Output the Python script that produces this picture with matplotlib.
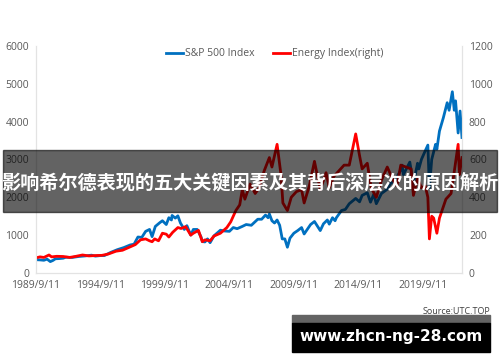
import matplotlib.pyplot as plt
from matplotlib.patches import Rectangle

# data (decimal years)
sp_year = [1989.7, 1990.0, 1990.3, 1990.55, 1990.8, 1991.0, 1991.2, 1991.5, 1991.8, 1992.0,
           1992.5, 1993.0, 1993.5, 1994.0, 1994.3, 1994.7, 1995.0, 1995.5, 1996.0, 1996.5,
           1997.0, 1997.3, 1997.6, 1997.9, 1998.2, 1998.5, 1998.7, 1998.95, 1999.3, 1999.5,
           1999.8, 2000.0, 2000.2, 2000.25, 2000.5, 2000.7, 2000.9, 2001.2, 2001.4, 2001.7,
           2001.9, 2002.2, 2002.5, 2002.6, 2002.8, 2003.0, 2003.2, 2003.5, 2004.0, 2004.3,
           2004.7, 2005.0, 2005.3, 2005.7, 2006.0, 2006.4, 2006.9, 2007.2, 2007.5, 2007.7,
           2007.8, 2008.0, 2008.2, 2008.4, 2008.6, 2008.8, 2009.0, 2009.2, 2009.4, 2009.7,
           2010.0, 2010.3, 2010.5, 2010.8, 2011.0, 2011.3, 2011.6, 2011.75, 2012.0, 2012.3,
           2012.45, 2012.7, 2012.9, 2013.0, 2013.4, 2013.7, 2014.0, 2014.5, 2014.8, 2015.0,
           2015.4, 2015.65, 2015.9, 2016.1, 2016.5, 2016.9, 2017.2, 2017.6, 2017.95, 2018.1,
           2018.2, 2018.7, 2018.98, 2019.3, 2019.4, 2019.6, 2019.9, 2020.1, 2020.22, 2020.4,
           2020.7, 2020.8, 2021.0, 2021.3, 2021.6, 2021.75, 2022.0, 2022.15, 2022.25, 2022.45,
           2022.6, 2022.75]
sp_val = [350, 345, 335, 365, 300, 330, 375, 380, 390, 415,
          410, 435, 450, 470, 445, 460, 460, 545, 615, 670,
          740, 760, 950, 940, 1100, 1150, 960, 1230, 1330, 1380,
          1280, 1460, 1400, 1520, 1450, 1510, 1320, 1150, 1250, 1000,
          1150, 1150, 950, 830, 820, 900, 800, 980, 1130, 1110,
          1100, 1200, 1170, 1230, 1280, 1260, 1420, 1420, 1530, 1460,
          1560, 1380, 1320, 1400, 1260, 900, 900, 680, 920, 1050,
          1120, 1200, 1030, 1180, 1280, 1360, 1200, 1120, 1300, 1400,
          1290, 1460, 1380, 1460, 1650, 1680, 1830, 1970, 1880, 2050,
          2120, 1870, 2080, 1830, 2100, 2200, 2360, 2470, 2690, 2850,
          2600, 2930, 2350, 2900, 2750, 3000, 3230, 3380, 2240, 3000,
          3400, 3270, 3750, 4100, 4500, 4300, 4790, 4300, 4550, 3700,
          4280, 3580]

en_year = [1989.7, 1990.0, 1990.3, 1990.7, 1990.9, 1991.3, 1991.8, 1992.3, 1992.8, 1993.3,
           1993.8, 1994.3, 1994.8, 1995.3, 1995.9, 1996.4, 1996.9, 1997.4, 1997.8, 1998.2,
           1998.5, 1998.7, 1998.9, 1999.2, 1999.5, 1999.8, 2000.0, 2000.3, 2000.7, 2000.95,
           2001.3, 2001.7, 2001.9, 2002.3, 2002.6, 2002.8, 2003.2, 2003.5, 2004.0, 2004.5,
           2004.8, 2005.2, 2005.5, 2005.7, 2005.9, 2006.3, 2006.7, 2007.0, 2007.4, 2007.8,
           2008.0, 2008.4, 2008.7, 2008.85, 2009.2, 2009.5, 2009.9, 2010.3, 2010.5, 2010.9,
           2011.3, 2011.75, 2012.2, 2012.45, 2012.8, 2013.2, 2013.6, 2014.0, 2014.5, 2014.8,
           2015.0, 2015.4, 2015.7, 2016.1, 2016.5, 2016.95, 2017.4, 2017.7, 2018.0, 2018.4,
           2018.8, 2018.98, 2019.3, 2019.6, 2019.9, 2020.1, 2020.22, 2020.4, 2020.55, 2020.8,
           2021.0, 2021.5, 2021.9, 2022.2, 2022.45, 2022.55, 2022.75]
en_val = [80, 85, 82, 95, 85, 88, 87, 82, 88, 95,
          90, 92, 93, 100, 115, 120, 135, 150, 175, 180,
          170, 165, 180, 170, 210, 205, 190, 215, 240, 235,
          245, 200, 210, 225, 165, 175, 170, 195, 210, 240,
          270, 330, 360, 440, 390, 470, 420, 450, 540, 610,
          560, 680, 520, 370, 330, 400, 430, 440, 370, 460,
          590, 440, 530, 450, 510, 540, 570, 570, 735, 620,
          550, 580, 450, 400, 490, 560, 490, 460, 570, 560,
          550, 410, 500, 450, 460, 400, 180, 300, 290, 210,
          290, 390, 420, 560, 680, 520, 610]

tick_pos = [1989.69, 1994.69, 1999.69, 2004.69, 2009.69, 2014.69, 2019.69]
tick_lab = ['1989/9/11', '1994/9/11', '1999/9/11', '2004/9/11', '2009/9/11', '2014/9/11', '2019/9/11']

title = '影响希尔德表现的五大关键因素及其背后深层次的原因解析'

plt.rcParams['font.family'] = ['Open Sans', 'DejaVu Sans']
grey = '#595959'

fig = plt.figure(figsize=(5, 3.62), dpi=100)
ax = fig.add_axes([0.072, 0.246, 0.852, 0.627])
ax2 = ax.twinx()

l1, = ax.plot(sp_year, sp_val, color='#0070C0', lw=2.0, label='S&P 500 Index')
l2, = ax2.plot(en_year, en_val, color='#FF0000', lw=2.0, label='Energy Index(right)')

ax.set_xlim(1989.69, 2022.75)
ax.set_ylim(0, 6000)
ax2.set_ylim(0, 1200)
ax.set_yticks(range(0, 6001, 1000))
ax2.set_yticks(range(0, 1201, 200))
ax.set_xticks(tick_pos)
ax.set_xticklabels(tick_lab)

for a in (ax, ax2):
    a.tick_params(length=0, labelsize=7.5, colors=grey, pad=5)
    for s in a.spines.values():
        s.set_color('#e3e3e3')
        s.set_linewidth(0.8)
    a.spines['top'].set_visible(False)

fig.legend(handles=[l1, l2], loc='center', bbox_to_anchor=(0.55, 0.851), ncol=2,
           frameon=False, fontsize=7.5, labelcolor=grey, handlelength=1.6,
           handletextpad=0.2, columnspacing=1.8)

# dark translucent banner with title
fig.patches.append(Rectangle((3 / 500, 1 - 212 / 362), 494 / 500, 62 / 362,
                             transform=fig.transFigure, color='black', alpha=0.61, zorder=5))
fig.text(0.5, 1 - 184 / 362, title, color='white', fontsize=13.8, fontweight='bold',
         family=['Noto Sans CJK SC', 'DejaVu Sans'], ha='center', va='center', zorder=6)

# source + footer box
fig.text(490 / 500, 1 - 311 / 362, 'Source:UTC.TOP', fontsize=6.5, color='#404040',
         ha='right', va='center', zorder=7)
fig.patches.append(Rectangle((292 / 500, 1 - 323 / 362), 198 / 500, 8 / 362,
                             transform=fig.transFigure, color='#646464', zorder=5))
fig.patches.append(Rectangle((292 / 500, 1 - 352 / 362), 198 / 500, 29 / 362,
                             transform=fig.transFigure, color='black', zorder=5))
fig.text(391 / 500, 1 - 337 / 362, 'www.zhcn-ng-28.com', color='white', fontsize=11,
         fontweight='bold', family='DejaVu Sans', ha='center', va='center', zorder=6)

fig.savefig('out.png', dpi=100)
